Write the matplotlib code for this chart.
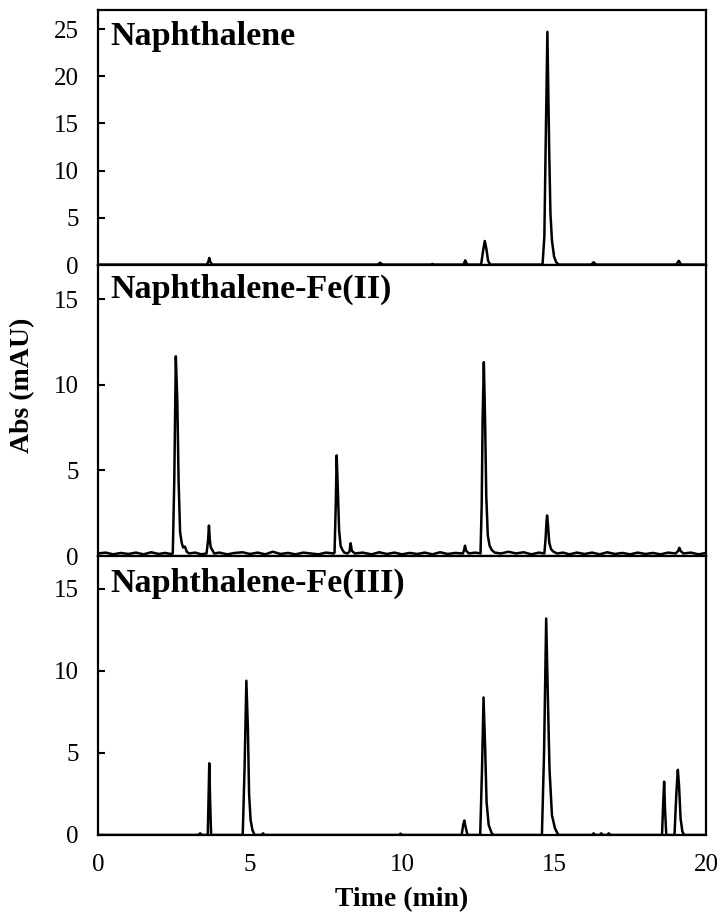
import matplotlib
matplotlib.use("Agg")
from matplotlib import pyplot as plt

plt.rcParams["font.family"] = ["Liberation Serif", "DejaVu Serif"]

# Naphthalene
naph_t = [0.0, 1.5, 3.0, 3.58, 3.63, 3.66, 3.70, 3.76, 6.0, 9.2, 9.28, 9.36,
          10.95, 11.0, 11.05, 12.02, 12.08, 12.14, 12.6, 12.66, 12.72, 12.77,
          12.83, 12.9, 14.62, 14.68, 14.72, 14.78, 14.84, 14.88, 14.93, 15.0,
          15.07, 15.15, 16.22, 16.3, 16.38, 19.02, 19.1, 19.18, 20.0]
naph_abs = [0.05, 0.05, 0.05, 0.05, 0.35, 0.75, 0.3, 0.05, 0.05, 0.05, 0.25, 0.05,
            0.05, 0.12, 0.05, 0.05, 0.5, 0.05, 0.05, 1.4, 2.55, 1.8,
            0.45, 0.05, 0.05, 3.0, 12.0, 24.7, 12.0, 5.5, 2.6, 0.9,
            0.3, 0.05, 0.05, 0.3, 0.05, 0.05, 0.45, 0.05, 0.05]

# Naphthalene-Fe(II)
fe2_t = [0.0, 0.25, 0.5, 0.75, 1.0, 1.25, 1.5, 1.75, 2.0, 2.2, 2.4,
         2.46, 2.51, 2.56, 2.61, 2.65, 2.70, 2.75, 2.80, 2.86, 2.92, 3.0, 3.2,
         3.4, 3.57, 3.62, 3.65, 3.68, 3.71, 3.76, 3.82,
         4.0, 4.25, 4.5, 4.75, 5.0, 5.25, 5.5, 5.75, 6.0, 6.25, 6.5, 6.75,
         7.0, 7.25, 7.5, 7.75,
         7.78, 7.82, 7.85, 7.89, 7.93, 7.98, 8.04, 8.1, 8.2, 8.27, 8.31, 8.35,
         8.45, 8.7, 9.0, 9.25, 9.5, 9.75, 10.0, 10.25, 10.5, 10.75, 11.0,
         11.25, 11.5, 11.75, 12.0, 12.04, 12.07, 12.11, 12.2, 12.4, 12.58,
         12.62, 12.65, 12.69, 12.73, 12.77, 12.82, 12.88, 12.95, 13.05, 13.25,
         13.5, 13.75, 14.0, 14.25, 14.5, 14.68,
         14.72, 14.75, 14.77, 14.80, 14.84, 14.9, 14.98, 15.1, 15.3, 15.5,
         15.75, 16.0, 16.25, 16.5, 16.75, 17.0, 17.25, 17.5, 17.75, 18.0,
         18.25, 18.5, 18.75, 19.0, 19.08, 19.12, 19.16, 19.25, 19.5, 19.75, 20.0]
fe2_abs = [0.15, 0.2, 0.1, 0.18, 0.12, 0.2, 0.1, 0.22, 0.12, 0.18, 0.12,
           0.15, 4.5, 11.67, 9.0, 4.5, 1.4, 0.8, 0.5, 0.55, 0.25, 0.15, 0.2,
           0.1, 0.15, 0.9, 1.78, 0.9, 0.5, 0.35, 0.15,
           0.2, 0.1, 0.18, 0.22, 0.12, 0.2, 0.1, 0.25, 0.12, 0.18, 0.1, 0.2,
           0.15, 0.1, 0.2, 0.15,
           0.2, 3.0, 5.88, 3.8, 1.5, 0.6, 0.35, 0.2, 0.15, 0.25, 0.75, 0.3,
           0.15, 0.2, 0.1, 0.22, 0.12, 0.2, 0.1, 0.18, 0.12, 0.2, 0.1,
           0.22, 0.12, 0.18, 0.15, 0.35, 0.6, 0.3, 0.15, 0.2, 0.15,
           3.0, 8.0, 11.33, 8.0, 3.5, 1.2, 0.6, 0.35, 0.2, 0.15,
           0.25, 0.15, 0.22, 0.1, 0.2, 0.15,
           1.0, 2.0, 2.37, 1.8, 0.8, 0.4, 0.25, 0.15, 0.2, 0.1,
           0.2, 0.12, 0.2, 0.1, 0.22, 0.12, 0.18, 0.1, 0.2, 0.12,
           0.18, 0.1, 0.2, 0.15, 0.3, 0.48, 0.3, 0.15, 0.2, 0.1, 0.18]

# Naphthalene-Fe(III)
fe3_t = [0.0, 3.3, 3.36, 3.42, 3.61, 3.64, 3.66, 3.69, 3.72, 4.76, 4.82,
         4.88, 4.93, 4.97, 5.02, 5.08, 5.15, 5.38, 5.43, 5.48, 9.9, 9.95, 10.0,
         11.96, 12.01, 12.05, 12.09, 12.15, 12.57, 12.63, 12.68, 12.73, 12.78,
         12.85, 12.95, 13.02, 14.6, 14.67, 14.74, 14.80, 14.85, 14.93, 15.03,
         15.14, 16.25, 16.3, 16.35, 16.5, 16.55, 16.6, 16.75, 16.8, 16.85,
         18.55, 18.59, 18.62, 18.65, 18.69, 18.96, 19.02, 19.07, 19.11, 19.16,
         19.22, 19.28, 20.0]
fe3_abs = [0.0, 0.0, 0.1, 0.0, 0.0, 2.5, 4.37, 2.0, 0.0, 0.0, 4.0,
           9.4, 6.5, 2.5, 0.9, 0.3, 0.0, 0.0, 0.1, 0.0, 0.0, 0.08, 0.0,
           0.0, 0.6, 0.88, 0.5, 0.0, 0.0, 4.0, 8.38, 5.5, 2.0,
           0.6, 0.1, 0.0, 0.0, 5.0, 13.19, 8.0, 4.0, 1.2, 0.4,
           0.0, 0.0, 0.1, 0.0, 0.0, 0.1, 0.0, 0.0, 0.1, 0.0,
           0.0, 2.0, 3.25, 1.5, 0.0, 0.0, 2.5, 3.97, 3.0, 1.0,
           0.2, 0.0, 0.0]

titles = ["Naphthalene", "Naphthalene-Fe(II)", "Naphthalene-Fe(III)"]
traces = [(naph_t, naph_abs), (fe2_t, fe2_abs), (fe3_t, fe3_abs)]
ylims = [(0, 27), (0, 17), (0, 17)]
yticks = [[0, 5, 10, 15, 20, 25], [0, 5, 10, 15], [0, 5, 10, 15]]
title_y = [0.863, 0.887, 0.871]

fig, axs = plt.subplots(3, 1, sharex=True, figsize=(7.22, 9.22), dpi=100,
                        gridspec_kw={"height_ratios": [255, 291, 279], "hspace": 0})
fig.subplots_adjust(left=0.1357, right=0.978, top=0.989, bottom=0.0944)

for i, ax in enumerate(axs):
    t, a = traces[i]
    ax.plot(t, a, color="black", lw=1.8)
    ax.set_xlim(0, 20)
    ax.set_ylim(*ylims[i])
    ax.set_yticks(yticks[i])
    ax.tick_params(axis="y", direction="in", length=5, width=1.5, labelsize=18, pad=14)
    ax.tick_params(axis="x", length=0, labelsize=18, pad=14)
    for s in ax.spines.values():
        s.set_linewidth(1.6)
    ax.text(0.02, title_y[i], titles[i], transform=ax.transAxes,
            fontsize=24.5, fontweight="bold", ha="left", va="baseline")

axs[2].set_xticks([0, 5, 10, 15, 20])
axs[2].set_xlabel("Time (min)", fontsize=20, fontweight="bold", labelpad=8)
fig.text(23/722, 1 - 385/922, "Abs (mAU)", rotation=90, ha="center", va="center",
         fontsize=20, fontweight="bold")

fig.savefig("out.png", dpi=100)
